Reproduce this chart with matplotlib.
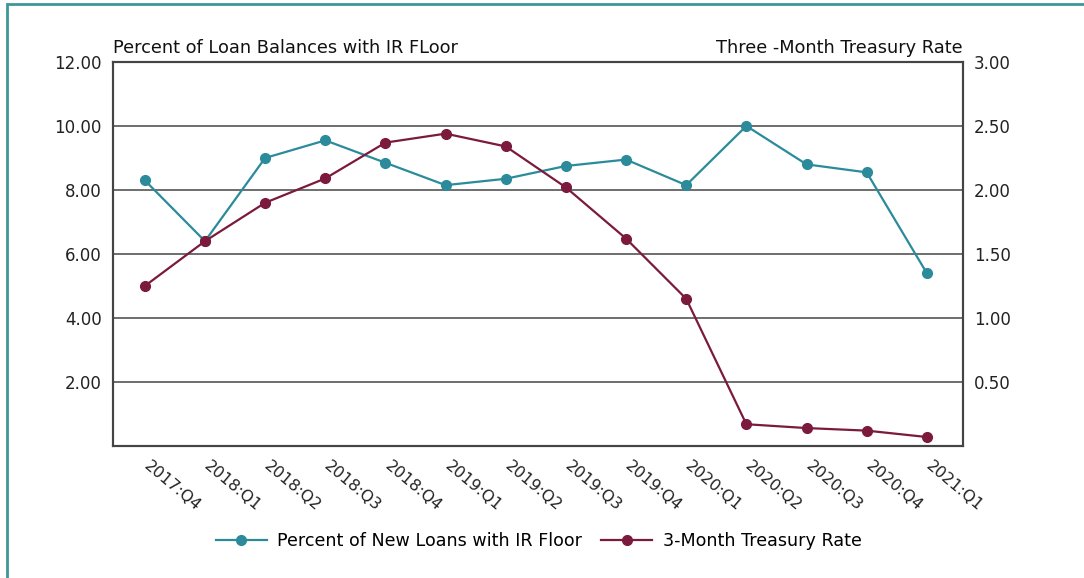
import matplotlib.pyplot as plt
import matplotlib.transforms as mtransforms
from matplotlib.patches import Rectangle
from matplotlib.lines import Line2D

quarters = ['2017:Q4', '2018:Q1', '2018:Q2', '2018:Q3', '2018:Q4', '2019:Q1', '2019:Q2',
            '2019:Q3', '2019:Q4', '2020:Q1', '2020:Q2', '2020:Q3', '2020:Q4', '2021:Q1']
pct_ir_floor = [8.3, 6.4, 9.0, 9.55, 8.85, 8.15, 8.35, 8.75, 8.95, 8.15, 10.0, 8.8, 8.55, 5.4]
treasury_3m = [1.25, 1.60, 1.90, 2.09, 2.37, 2.44, 2.34, 2.02, 1.62, 1.15, 0.17, 0.14, 0.12, 0.07]

left_ticks = [2, 4, 6, 8, 10, 12]
right_ticks = [0.5, 1.0, 1.5, 2.0, 2.5, 3.0]

teal = '#2b8b9b'
maroon = '#7b1a3c'
dark = '#444444'

plt.rcParams['font.family'] = 'DejaVu Sans'

fig = plt.figure(figsize=(10.84, 5.78), dpi=100)
ax = fig.add_axes([0.1042, 0.2284, 0.7841, 0.6644])
ax2 = ax.twinx()

x = list(range(len(quarters)))

ax.set_ylim(0, 12)
ax.set_yticks(left_ticks)
ax.set_yticklabels(['%.2f' % v for v in left_ticks], fontsize=12, color='#222222')
ax2.set_ylim(0, 3)
ax2.set_yticks(right_ticks)
ax2.set_yticklabels(['%.2f' % v for v in right_ticks], fontsize=12, color='#222222')
ax.set_xlim(-0.53, 13.6)

for v in left_ticks[:-1]:
    ax.axhline(v, color='#555555', lw=1.2, zorder=1)

ax.plot(x, pct_ir_floor, color=teal, lw=1.6, marker='o', ms=7, zorder=3)
ax2.plot(x, treasury_3m, color=maroon, lw=1.6, marker='o', ms=7, zorder=3)

ax.set_xticks(x)
ax.set_xticklabels(quarters, rotation=-40, ha='left', va='top', rotation_mode='anchor',
                   fontsize=11.5, color='#222222')
ax.tick_params(axis='x', length=0, pad=9)
ax.tick_params(axis='y', length=0, pad=8)
ax2.tick_params(axis='y', length=0, pad=8)
shift = mtransforms.ScaledTranslation(6 / 100, 0, fig.dpi_scale_trans)
for lab in ax.get_xticklabels():
    lab.set_transform(lab.get_transform() + shift)

for a in (ax, ax2):
    for s in a.spines.values():
        s.set_color(dark)
        s.set_linewidth(1.5)

ax.text(0.0, 1.012, 'Percent of Loan Balances with IR FLoor', transform=ax.transAxes,
        ha='left', va='bottom', fontsize=12.8, color='#111111')
ax.text(1.0, 1.012, 'Three -Month Treasury Rate', transform=ax.transAxes,
        ha='right', va='bottom', fontsize=12.8, color='#111111')

handles = [Line2D([], [], color=teal, lw=1.6, marker='o', ms=7),
           Line2D([], [], color=maroon, lw=1.6, marker='o', ms=7)]
fig.legend(handles, ['Percent of New Loans with IR Floor', '3-Month Treasury Rate'],
           loc='center', bbox_to_anchor=(0.497, 0.064), ncol=2, frameon=False,
           fontsize=12.6, handlelength=2.9, columnspacing=1.1, handletextpad=0.6)

# teal frame (left and top edges visible)
fig.patches.append(Rectangle((0.0068, -0.05), 1.05, 1.043, transform=fig.transFigure,
                             fill=False, edgecolor='#3f9797', lw=2, zorder=0))

fig.savefig('out.png', dpi=100)
